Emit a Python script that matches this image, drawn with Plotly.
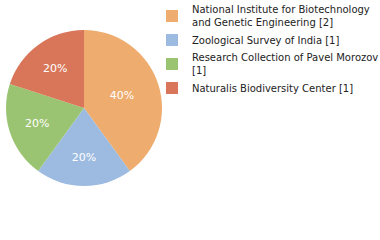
import plotly.graph_objects as go

labels = [
    "National Institute for Biotechnology<br>and Genetic Engineering [2]",
    "Zoological Survey of India [1]",
    "Research Collection of Pavel Morozov<br>[1]",
    "Naturalis Biodiversity Center [1]",
]
values = [2, 1, 1, 1]
colors = ["#EEAC6E", "#9DBBE0", "#9BC472", "#D97659"]

fig = go.Figure(go.Pie(
    labels=labels,
    values=values,
    sort=False,
    direction="clockwise",
    rotation=0,
    marker=dict(colors=colors, line=dict(width=0)),
    textinfo="percent",
    texttemplate="%{percent:.0%}",
    textposition="inside",
    insidetextorientation="horizontal",
    textfont=dict(color="white", size=11, family="DejaVu Sans"),
    domain=dict(x=[5/380, 163/380], y=[54/240, 210/240]),
    hoverinfo="skip",
))
fig.update_layout(
    width=380, height=240,
    margin=dict(l=0, r=0, t=0, b=0, autoexpand=False),
    paper_bgcolor="white",
    showlegend=True,
    legend=dict(
        x=152/380, y=1.015, xanchor="left", yanchor="top",
        font=dict(family="DejaVu Sans", size=10, color="#222"),
        tracegroupgap=0,
        bgcolor="rgba(0,0,0,0)",
    ),
)
fig.write_html("out.html")
